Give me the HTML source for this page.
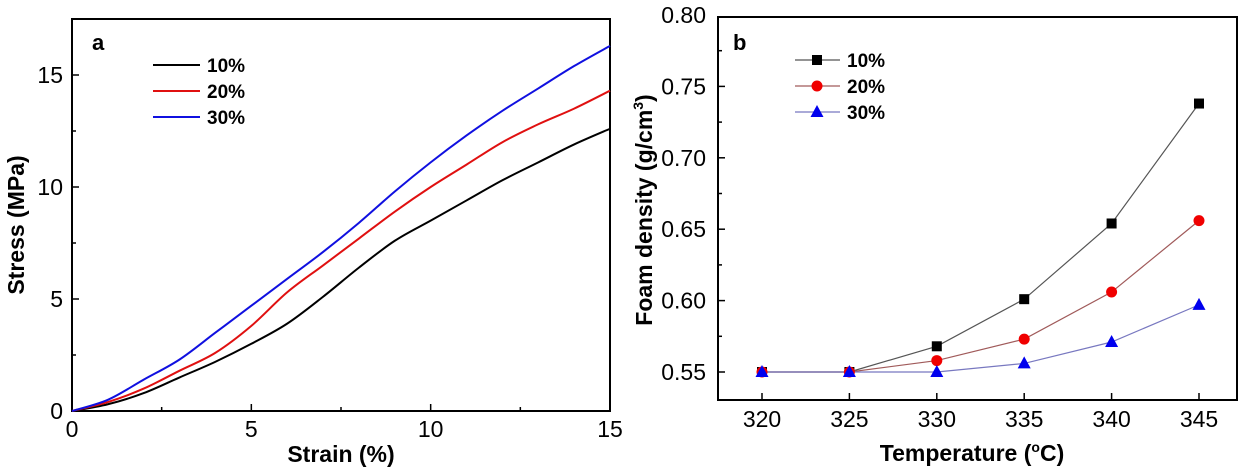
<!DOCTYPE html>
<html><head><meta charset="utf-8"><style>
body{margin:0;background:#fff}
svg{display:block;font-family:"Liberation Sans",Arial,sans-serif}
</style></head><body>
<svg id="svg" width="1243" height="469" viewBox="0 0 1243 469"></svg>
<script>
const strainX=[0,1,2,3,4,5,6,7,8,9,10,11,12,13,14,15];
const stress10=[0,0.3,0.8,1.5,2.2,3.0,3.9,5.1,6.4,7.6,8.5,9.4,10.3,11.1,11.9,12.6];
const stress20=[0,0.4,1.0,1.8,2.6,3.8,5.3,6.5,7.7,8.9,10.0,11.0,12.0,12.8,13.5,14.3];
const stress30=[0,0.5,1.4,2.3,3.5,4.7,5.9,7.1,8.4,9.8,11.1,12.3,13.4,14.4,15.4,16.3];
const aXTicks=[0,5,10,15];
const aYTicks=[0,5,10,15];
const temps=[320,325,330,335,340,345];
const dens10=[0.55,0.55,0.568,0.601,0.654,0.738];
const dens20=[0.55,0.55,0.558,0.573,0.606,0.656];
const dens30=[0.55,0.55,0.55,0.556,0.571,0.597];
const bXTicks=[320,325,330,335,340,345];
const bYTicks=["0.55","0.60","0.65","0.70","0.75","0.80"];

const NS="http://www.w3.org/2000/svg";
const svg=document.getElementById('svg');
function mk(tag,attrs,parent,text){const e=document.createElementNS(NS,tag);for(const k in attrs)e.setAttribute(k,attrs[k]);if(text!==undefined)e.textContent=text;(parent||svg).appendChild(e);return e;}

// ---- Chart a ----
const ax=v=>72+v*(610-72)/15;
const ay=v=>411-v*(411-75)/15;
const ga=mk('g',{});


const boxA=mk('rect',{x:72,y:19,width:538,height:392,fill:'none',stroke:'#000','stroke-width':2},ga);


for(let v=0;v<=15;v+=2.5){
  const t=mk('line',{x1:ax(v),x2:ax(v),y1:411,y2:411-(v%5===0?7:4),stroke:'#000','stroke-width':1.5},ga);
  
  
}
for(let v=0;v<=17;v+=2.5){
  const t=mk('line',{x1:72,x2:72+(v%5===0?7:4),y1:ay(v),y2:ay(v),stroke:'#000','stroke-width':1.5},ga);
  
  
}
aXTicks.forEach(v=>{const t=mk('text',{x:ax(v),y:437,'font-size':23,'text-anchor':'middle'},ga,String(v));
  });
aYTicks.forEach(v=>{const t=mk('text',{x:63,y:ay(v)+8,'font-size':23,'text-anchor':'end'},ga,String(v));
  });
function smooth(xs,ys,fx,fy){let d='';const P=xs.map((x,i)=>[fx(x),fy(ys[i])]);
  d='M'+P[0][0]+','+P[0][1];
  for(let i=0;i<P.length-1;i++){const p0=P[Math.max(i-1,0)],p1=P[i],p2=P[i+1],p3=P[Math.min(i+2,P.length-1)];
    const c1=[p1[0]+(p2[0]-p0[0])/6,p1[1]+(p2[1]-p0[1])/6],c2=[p2[0]-(p3[0]-p1[0])/6,p2[1]-(p3[1]-p1[1])/6];
    d+=` C${c1[0]},${c1[1]} ${c2[0]},${c2[1]} ${p2[0]},${p2[1]}`;}
  return d;}
[[stress10,'#000','curve-10'],[stress20,'#e01010','curve-20'],[stress30,'#1010e0','curve-30']].forEach(([s,c,n])=>{
  const p=mk('path',{d:smooth(strainX,s,ax,ay),fill:'none',stroke:c,'stroke-width':2},ga);
  });
const la=mk('text',{x:92,y:50,'font-size':22,'font-weight':'bold'},ga,'a');

[['10%','#000',65],['20%','#e01010',91],['30%','#1010e0',117]].forEach(([t,c,y])=>{
  const g=mk('g',{},ga);
  mk('line',{x1:153,x2:200,y1:y,y2:y,stroke:c,'stroke-width':2},g);
  mk('text',{x:207,y:y+7,'font-size':19,'font-weight':'bold'},g,t);});
const xta=mk('text',{x:341,y:462,'font-size':23,'font-weight':'bold','text-anchor':'middle'},ga,'Strain (%)');

const yta=mk('text',{x:0,y:0,'font-size':23,'font-weight':'bold','text-anchor':'middle',transform:'translate(24,225) rotate(-90)'},ga,'Stress (MPa)');


// ---- Chart b ----
const bx=v=>762+(v-320)*(1199-762)/25;
const by=v=>372-(v-0.55)*(372-15)/0.25;
const gb=mk('g',{});


const boxB=mk('rect',{x:718,y:17,width:519,height:383,fill:'none',stroke:'#000','stroke-width':2},gb);


bXTicks.forEach(v=>{
  const t=mk('line',{x1:bx(v),x2:bx(v),y1:400,y2:393,stroke:'#000','stroke-width':1.5},gb);
  
  const l=mk('text',{x:bx(v),y:427,'font-size':23,'text-anchor':'middle'},gb,String(v));
  });
for(let i=0;i<=10;i++){const v=0.55+i*0.025-0.025;
  if(v<0.53)continue;
  const t=mk('line',{x1:718,x2:718+(i%2===1?7:4),y1:by(v),y2:by(v),stroke:'#000','stroke-width':1.5},gb);
  }
bYTicks.forEach(s=>{const l=mk('text',{x:706,y:by(parseFloat(s))+8,'font-size':23,'text-anchor':'end'},gb,s);
  });
const series=[[dens10,'#555','#000','sq','series-10'],[dens20,'#a05a5a','#f00000','ci','series-20'],[dens30,'#7878c0','#0000ee','tr','series-30']];
series.forEach(([d,lc])=>{
  const pl=mk('polyline',{points:temps.map((t,i)=>bx(t)+','+by(d[i])).join(' '),fill:'none',stroke:lc,'stroke-width':1.2},gb);
  });
function marker(type,x,y,c,g){let m;
  if(type==='sq')m=mk('rect',{x:x-5,y:y-5,width:10,height:10,fill:c},g);
  else if(type==='ci')m=mk('circle',{cx:x,cy:y,r:5.5,fill:c},g);
  else m=mk('polygon',{points:`${x},${y-7} ${x-6.5},${y+5} ${x+6.5},${y+5}`,fill:c},g);
  return m;}
series.forEach(([d,lc,mc,type,n])=>{temps.forEach((t,i)=>{
  const m=marker(type,bx(t),by(d[i]),mc,gb);
  });});
const lb=mk('text',{x:733,y:50,'font-size':22,'font-weight':'bold'},gb,'b');

[['10%','#555','#000','sq',60],['20%','#a05a5a','#f00000','ci',86],['30%','#7878c0','#0000ee','tr',112]].forEach(([t,lc,mc,type,y])=>{
  const g=mk('g',{},gb);
  mk('line',{x1:795,x2:840,y1:y,y2:y,stroke:lc,'stroke-width':1.2},g);
  marker(type,817,y,mc,g);
  mk('text',{x:847,y:y+7,'font-size':19,'font-weight':'bold'},g,t);});
const xtb=mk('text',{x:972,y:461,'font-size':23,'font-weight':'bold','text-anchor':'middle'},gb);

xtb.innerHTML='Temperature (<tspan dy="-9" font-size="14">o</tspan><tspan dy="9">C)</tspan>';
const ytb=mk('text',{x:0,y:0,'font-size':23,'font-weight':'bold','text-anchor':'middle',transform:'translate(652,210) rotate(-90)'},gb);

ytb.innerHTML='Foam density (g/cm<tspan dy="-9" font-size="14">3</tspan><tspan dy="9">)</tspan>';
</script>
</body></html>
